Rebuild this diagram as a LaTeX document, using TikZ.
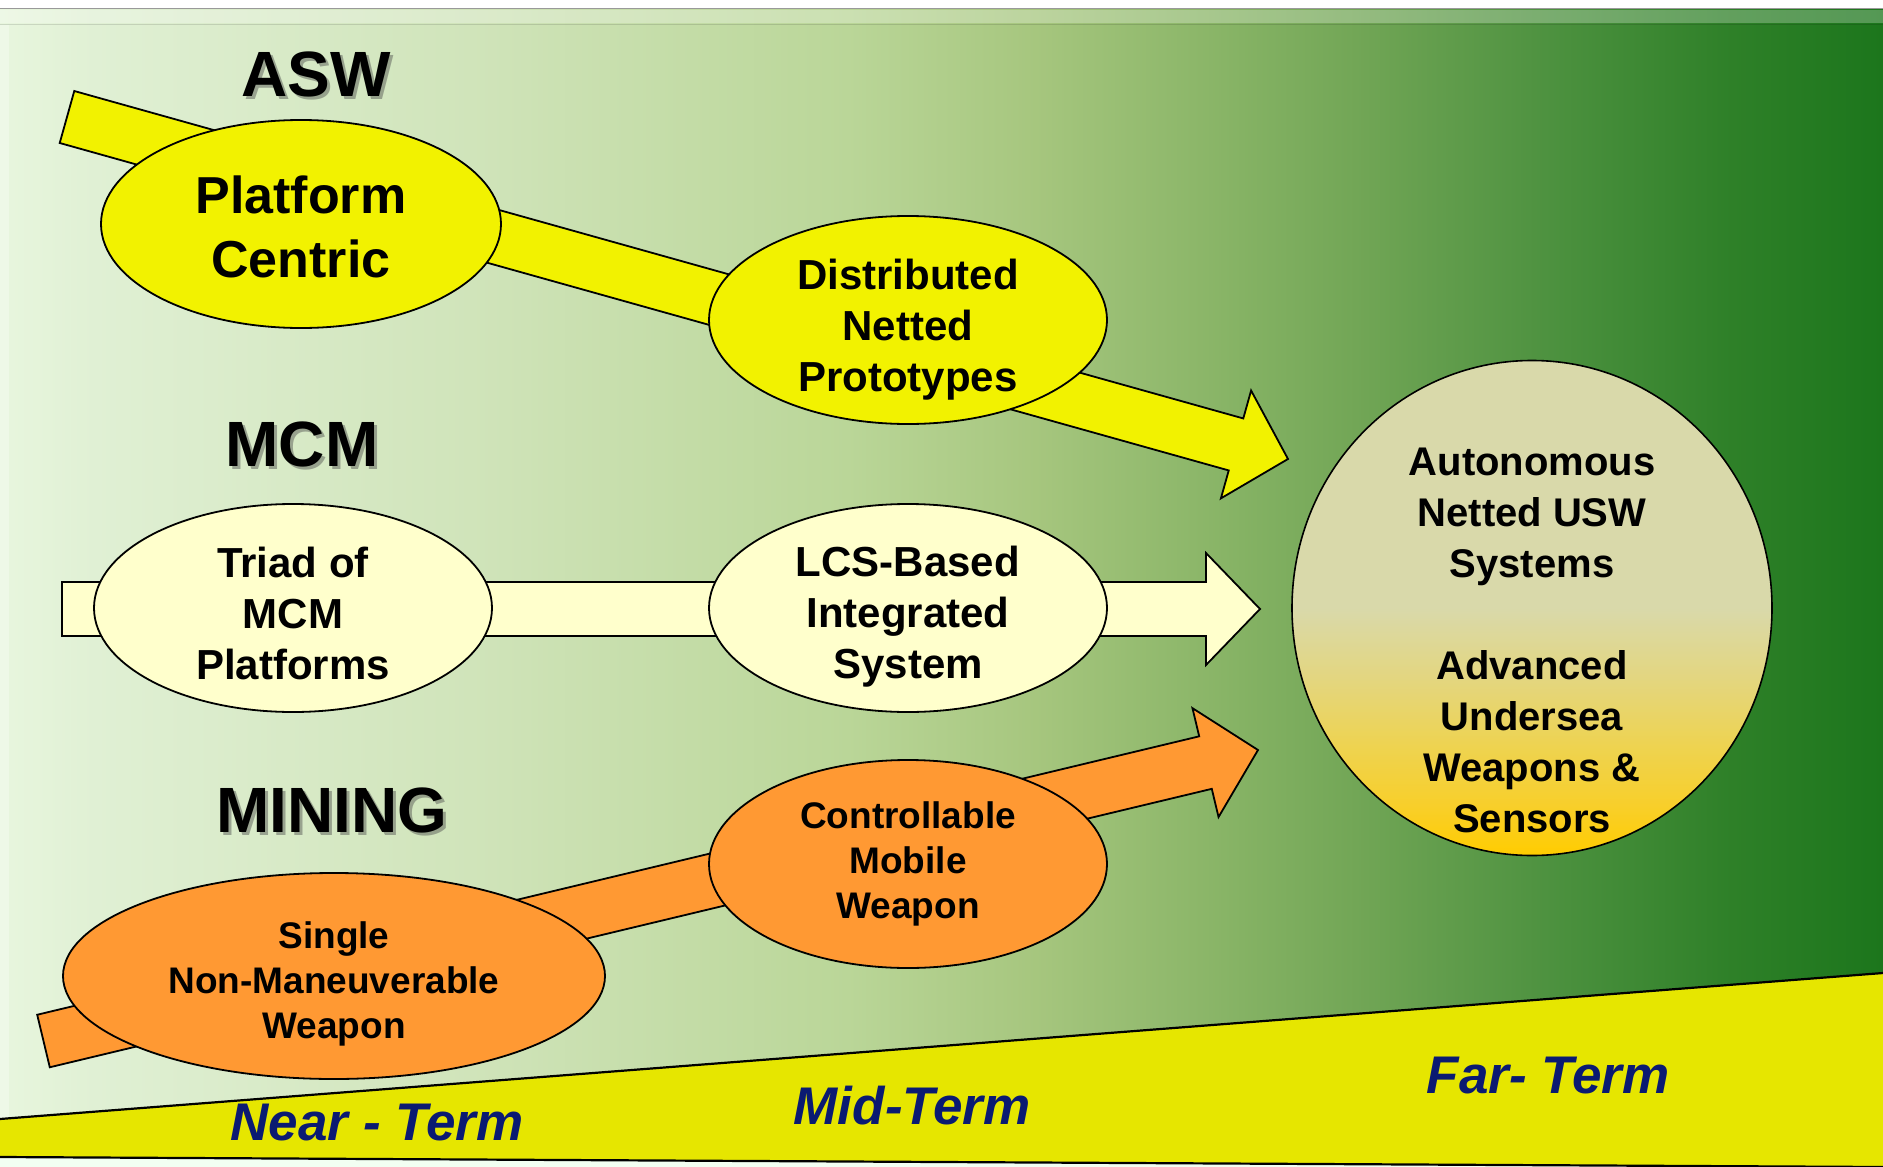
\documentclass[tikz,border=0pt]{standalone}
\usepackage{fontspec}
\setmainfont{Liberation Sans}
\usetikzlibrary{shapes.geometric,calc}

\definecolor{g0}{HTML}{E8F6DE}
\definecolor{g1}{HTML}{E0F0D4}
\definecolor{g2}{HTML}{D0E4BA}
\definecolor{g3}{HTML}{BAD698}
\definecolor{g4}{HTML}{A6C67E}
\definecolor{g5}{HTML}{88B466}
\definecolor{g6}{HTML}{72A656}
\definecolor{g7}{HTML}{4E9240}
\definecolor{g8}{HTML}{2E8028}
\definecolor{g9}{HTML}{1C761C}
\definecolor{c0}{HTML}{FFCC00}
\definecolor{c1}{HTML}{F8CF2A}
\definecolor{c2}{HTML}{EED350}
\definecolor{c3}{HTML}{E3D680}
\definecolor{c4}{HTML}{D9D9AA}
\definecolor{aswY}{HTML}{F2F200}
\definecolor{mcmY}{HTML}{FFFFCC}
\definecolor{minO}{HTML}{FF9933}
\definecolor{bandY}{HTML}{E6E600}
\definecolor{termBlue}{HTML}{0A1A72}

\pgfdeclarehorizontalshading{bgshade}{100bp}{color(0bp)=(g0); color(25bp)=(g0); color(27.5bp)=(g1); color(37.5bp)=(g2); color(47.5bp)=(g3); color(52.5bp)=(g4); color(57.5bp)=(g5); color(61bp)=(g6); color(66bp)=(g7); color(71bp)=(g8); color(75bp)=(g9); color(100bp)=(g9)}
\pgfdeclareverticalshading{circshade}{100bp}{color(0bp)=(c0); color(25bp)=(c0); color(30bp)=(c1); color(36bp)=(c2); color(43bp)=(c3); color(50bp)=(c4); color(100bp)=(c4)}

\newcommand\myblockarrow[3]{%
  \path ($(#3)!54pt!(#2)$) coordinate (#3-h);
  \draw[#1] ($(#2)!27pt!90:(#3)$) -- ($(#3-h)!27pt!90:(#3)$) -- ($(#3-h)!56pt!90:(#3)$) -- (#3)
    -- ($(#3-h)!56pt!-90:(#3)$) -- ($(#3-h)!27pt!-90:(#3)$) -- ($(#2)!27pt!-90:(#3)$) -- cycle;
}

\tikzset{
  ell/.style={ellipse, draw=black, line width=1.8pt, inner sep=0pt},
  txt/.style={align=center, text=black, inner sep=0pt},
  big/.style={font=\bfseries\fontsize{52}{64}\selectfont},
  mid/.style={font=\bfseries\fontsize{42}{51}\selectfont},
  small/.style={font=\bfseries\fontsize{37}{45}\selectfont},
  heading/.style={font=\bfseries\fontsize{64}{70}\selectfont, text=black, inner sep=0pt},
  headshadow/.style={font=\bfseries\fontsize{64}{70}\selectfont, text=black!70, opacity=0.45, inner sep=0pt},
  term/.style={font=\bfseries\itshape\fontsize{53}{60}\selectfont, text=termBlue, inner sep=0pt},
  arr/.style={draw=black, line width=1.8pt, line join=miter},
}

\begin{document}
\begin{tikzpicture}[x=1pt,y=-1pt]
\useasboundingbox (0,0) rectangle (1883,1167);
% background
\fill[white] (0,0) rectangle (1883,9);
\shade[shading=bgshade] (0,8) rectangle (1883,1167);
\draw[black!40, line width=1.5pt] (0,8.5) -- (1883,8.5);
\fill[white, opacity=0.25] (0,10) rectangle (1883,23);
\draw[black, opacity=0.12, line width=1.5pt] (0,24.5) -- (1883,24.5);
\fill[white, opacity=0.3] (0,25) rectangle (9,1157);
% bottom band
\fill[green!5!white] (0,1157) -- (1883,1167) -- (0,1167) -- cycle;
\fill[bandY] (0,1119) -- (1883,973) -- (1883,1167) -- (0,1157) -- cycle;
\draw[black, line width=2.2pt] (0,1119) -- (1883,973);
\draw[black, line width=2.2pt] (0,1157) -- (1883,1167);

% arrows
\coordinate (aswS) at (67,117);
\coordinate (aswT) at (1288,459);
\coordinate (mcmS) at (62,609);
\coordinate (mcmT) at (1260,609);
\coordinate (minS) at (43.5,1041);
\coordinate (minT) at (1258,750);
\myblockarrow{arr, fill=aswY}{aswS}{aswT}
\myblockarrow{arr, fill=mcmY}{mcmS}{mcmT}
\myblockarrow{arr, fill=minO}{minS}{minT}

% headings
\node[headshadow] (aswsh) at (319,77) {ASW};
\node[heading] (asw) at (316,74) {ASW};
\node[headshadow] (mcmsh) at (305,447) {MCM};
\node[heading] (mcm) at (302,444) {MCM};
\node[headshadow] (minsh) at (335,813) {MINING};
\node[heading] (min) at (332,810) {MINING};

% ellipses
\node[ell, fill=aswY, minimum width=400pt, minimum height=208pt] (plat) at (301,224) {};
\node[txt, big] (platt) at (301,227) {Platform\\Centric};
\node[ell, fill=aswY, minimum width=398pt, minimum height=208pt] (dist) at (908,320) {};
\node[txt, mid] (distt) at (908,330) {Distributed\\Netted\\Prototypes};
\node[ell, fill=mcmY, minimum width=398pt, minimum height=208pt] (triad) at (293,608) {};
\node[txt, mid] (triadt) at (293,613) {Triad of\\MCM\\Platforms};
\node[ell, fill=mcmY, minimum width=398pt, minimum height=208pt] (lcs) at (908,608) {};
\node[txt, mid] (lcst) at (908,617) {LCS-Based\\Integrated\\System};
\node[ell, fill=minO, minimum width=398pt, minimum height=208pt] (ctrl) at (908,864) {};
\node[txt, small] (ctrlt) at (908,864) {Controllable\\Mobile\\Weapon};
\node[ell, fill=minO, minimum width=542pt, minimum height=206pt] (single) at (334,976) {};
\node[txt, small] (singlet) at (334,984) {Single\\Non-Maneuverable\\Weapon};

% goal circle
\node[ell, shade, shading=circshade, line width=1.6pt, minimum width=480pt, minimum height=495pt] (goal) at (1532,608) {};
\node[txt, font=\bfseries\fontsize{40}{51}\selectfont] (goaltxt) at (1532,640)
  {Autonomous\\Netted USW\\Systems\\[51pt]Advanced\\Undersea\\Weapons \&\\Sensors};

% terms
\node[term] (near) at (377,1123) {Near - Term};
\node[term] (midt) at (912,1106) {Mid-Term};
\node[term] (far) at (1548,1076) {Far- Term};
\end{tikzpicture}
\end{document}
